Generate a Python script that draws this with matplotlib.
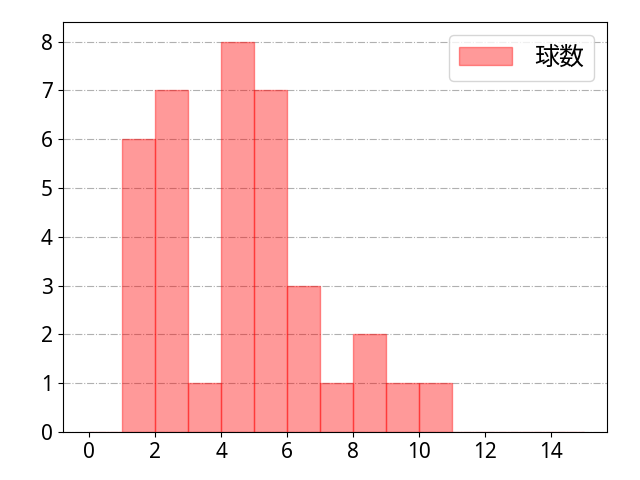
import matplotlib
matplotlib.use("Agg")
import matplotlib.pyplot as plt
import numpy as np

plt.rcParams['font.family'] = ['Noto Sans CJK JP', 'DejaVu Sans']

bin_edges = list(range(0, 16))
bin_starts = [1, 2, 3, 4, 5, 6, 7, 8, 9, 10]
counts = [6, 7, 1, 8, 7, 3, 1, 2, 1, 1]
label = "球数"

fig = plt.figure(figsize=(6.4, 4.8), dpi=100)
ax = fig.add_axes([0.098, 0.1, 0.85, 0.854])
ax.hist([s + 0.5 for s in bin_starts], bins=bin_edges, weights=counts,
        color='red', alpha=0.4, edgecolor='red', label=label, zorder=2)
ax.set_xlim(-0.81, 15.69)
ax.set_xticks(range(0, 15, 2))
ax.set_yticks(range(0, 9))
ax.grid(axis='y', linestyle='-.', color='#b0b0b0', linewidth=0.8, zorder=0)
ax.set_axisbelow(True)
ax.legend(loc='upper right', fontsize=18, handlelength=2.1, handletextpad=0.9)
ax.tick_params(labelsize=15)
for t in ax.get_xticklabels() + ax.get_yticklabels():
    t.set_fontfamily(['Noto Sans', 'DejaVu Sans'])
fig.savefig("out.png")
